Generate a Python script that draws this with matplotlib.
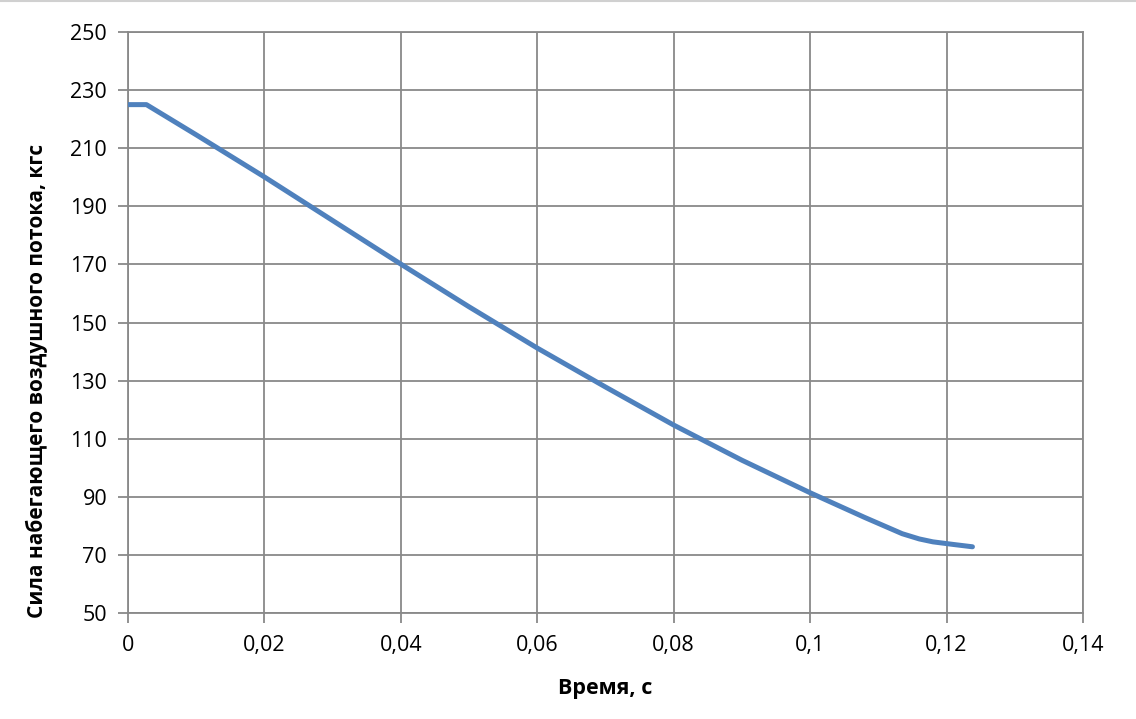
import numpy as np
import matplotlib
matplotlib.use('Agg')
import matplotlib.pyplot as plt
from matplotlib.ticker import FuncFormatter

# время, с  /  сила набегающего потока, кгс
t = [0.0, 0.0027, 0.01, 0.02, 0.03, 0.04, 0.05, 0.06, 0.07, 0.08,
     0.09, 0.1, 0.108, 0.1135, 0.116, 0.118, 0.121, 0.1238]
F = [225.0, 225.0, 214.6, 200.1, 185.1, 170.1, 155.4, 141.2, 127.8, 114.7,
     102.6, 91.4, 82.9, 77.3, 75.5, 74.5, 73.6, 72.8]

xticks = [0, 0.02, 0.04, 0.06, 0.08, 0.1, 0.12, 0.14]
yticks = [50, 70, 90, 110, 130, 150, 170, 190, 210, 230, 250]

plt.rcParams['font.family'] = ['Open Sans', 'DejaVu Sans']
grid_col = '#898989'

fig = plt.figure(figsize=(11.36, 7.19), dpi=100)
ax = fig.add_axes([0.1127, 0.1474, 0.8406, 0.8081])

ax.plot(t, F, color='#4F81BD', linewidth=3.6, solid_capstyle='round',
        solid_joinstyle='round', zorder=3)

ax.set_xlim(0, 0.14)
ax.set_ylim(50, 250)
ax.set_xticks(xticks)
ax.set_yticks(yticks)

def fmt(v, pos):
    s = ('%.2f' % v).rstrip('0').rstrip('.')
    return s.replace('.', ',')

ax.xaxis.set_major_formatter(FuncFormatter(fmt))
ax.grid(True, color=grid_col, linewidth=1.3)
ax.set_axisbelow(True)
for sp in ax.spines.values():
    sp.set_color(grid_col)
    sp.set_linewidth(1.3)
ax.tick_params(axis='both', direction='out', length=7, width=1.3,
               color=grid_col, labelsize=15.5, labelcolor='black')
ax.tick_params(axis='x', pad=9)
ax.tick_params(axis='y', pad=8)

ax.set_xlabel('Время, с', fontsize=15.5, fontweight='bold', labelpad=16)
ax.set_ylabel('Сила набегающего воздушного потока, кгс', fontsize=15,
              fontweight='bold')
ax.yaxis.set_label_coords(-0.084, 0.40)

# тонкая линия сверху, как в исходной картинке
fig.add_artist(plt.Line2D([0, 1], [0.998, 0.998], color='#d0d0d0', linewidth=1.5))

fig.savefig('out.png', dpi=100)
